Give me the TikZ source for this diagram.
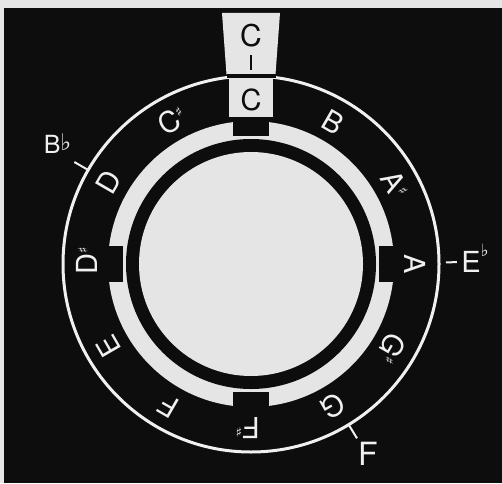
\documentclass[tikz,border=0pt]{standalone}
\usepackage{fontspec}
\setmainfont{TeX Gyre Heros}
\newfontfamily\symfont{DejaVu Sans}
\usepackage{xcolor}
\usepackage{tikz}

\definecolor{board}{gray}{0.05}
\definecolor{card}{gray}{0.9}
\definecolor{chalk}{gray}{0.94}

\newcommand\sh{\rlap{\raisebox{10pt}{\symfont\fontsize{13}{13}\selectfont ♯}}}

\tikzset{
  note/.style={font=\fontsize{29}{29}\selectfont,text=chalk,inner sep=0pt,
    text height=21pt,text depth=0pt},
  key/.style={text=chalk,inner sep=0pt,text depth=0pt},
  tick/.style={chalk,line width=2pt}
}

\begin{document}
\begin{tikzpicture}[x=1pt,y=1pt]
    \useasboundingbox (0,0) rectangle (502,483);
    \fill[card] (0,0) rectangle (502,483);
    \fill[board] (4,0) rectangle (502,475);

    \begin{scope}[shift={(251,219)}]
      \coordinate (hub) at (0,0);
      \draw[chalk,line width=3pt] (hub) circle[radius=188];
      \fill[card] (hub) circle[radius=143];
      \fill[board] (hub) circle[radius=125];
      \fill[card] (hub) circle[radius=112];

      \foreach \a in {0,90,180,270}
        \fill[board,rotate=\a] (128,-18) rectangle (150,18);

      \fill[card] (-29,251) -- (29,251) -- (24.5,189.5) -- (-24.5,189.5) -- cycle;
      \fill[card] (-22,147) rectangle (22,186);
      \fill[board] (-24.5,186) rectangle (24.5,189.5);

      \foreach \n/\a in {C\sh/120,D/150,D\sh/180,E/210,F/240,F\sh/270,
                         G/300,G\sh/330,A/0,A\sh/30,B/60}
        \node[note,rotate=\a-90] (note-\a) at (\a:164) {\n};
      \node[note,text=board] (note-90) at (90:164) {C};

      \node[key,text=board,font=\fontsize{30}{30}\selectfont,text height=22pt]
        (key-c) at (90:228) {C};
      \coordinate (tick-c-a) at (90:194);
      \coordinate (tick-c-b) at (90:209);
      \draw[tick,board] (tick-c-a) -- (tick-c-b);

      \node[key,font=\fontsize{25}{25}\selectfont,text height=18pt] (key-bflat) at (149:232)
        {B\rlap{\raisebox{3pt}{\symfont\fontsize{23}{23}\selectfont ♭}}};
      \coordinate (tick-bflat-a) at (150:189);
      \coordinate (tick-bflat-b) at (150:204);
      \draw[tick] (tick-bflat-a) -- (tick-bflat-b);

      \node[key,font=\fontsize{29}{29}\selectfont,text height=21pt] (key-eflat) at (0.5:220)
        {E\rlap{\raisebox{16pt}{\symfont\fontsize{17}{17}\selectfont ♭}}};
      \coordinate (tick-eflat-a) at (0.5:195);
      \coordinate (tick-eflat-b) at (0.5:206);
      \draw[tick] (tick-eflat-a) -- (tick-eflat-b);

      \node[key,font=\fontsize{32}{32}\selectfont,text height=23pt] (key-f) at (301.6:223) {F};
      \coordinate (tick-f-a) at (301.3:189);
      \coordinate (tick-f-b) at (301.3:204);
      \draw[tick] (tick-f-a) -- (tick-f-b);
    \end{scope}
  \end{tikzpicture}
\end{document}
